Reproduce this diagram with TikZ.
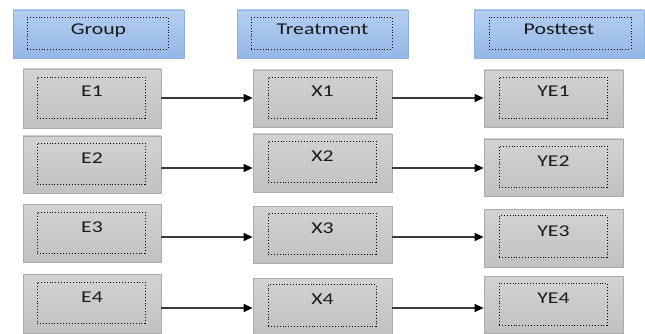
\documentclass[tikz,border=0pt]{standalone}
\usepackage{fontspec}
\setmainfont{Carlito}
\usetikzlibrary{arrows.meta}
\definecolor{hdrtop}{HTML}{B4CEF1}
\definecolor{hdrbot}{HTML}{94B7E5}
\definecolor{hdrline}{HTML}{8DB3E2}
\definecolor{grytop}{HTML}{D3D3D3}
\definecolor{grybot}{HTML}{C1C1C1}
\definecolor{gryline}{HTML}{ABABAB}
\definecolor{arrline}{HTML}{3A3A3A}
\newcommand{\widetxt}[1]{\scalebox{1.32}[1]{#1}}
\tikzset{
  hdrbox/.style={draw=hdrline, line width=0.8pt, top color=hdrtop, bottom color=hdrbot, inner sep=0pt, minimum width=171pt, minimum height=48pt},
  grybox/.style={draw=gryline, line width=0.8pt, top color=grytop, bottom color=grybot, inner sep=0pt},
  innerbox/.style={draw=black, dotted, line width=0.9pt, inner sep=0pt},
  lbl/.style={anchor=base, font=\fontsize{16.5pt}{18pt}\selectfont, text=black!90, inner sep=0pt},
  conn/.style={draw=arrline, line width=1.3pt, -{Triangle[length=9pt,width=8pt,color=black]}}
}
\begin{document}
\begin{tikzpicture}[x=1pt,y=-1pt]
\useasboundingbox[fill=white] (0,0) rectangle (645,334);
% headers
\node[hdrbox] (group) at (98.5,34) {};
\node[innerbox, minimum width=141pt, minimum height=32pt] (groupin) at (97.5,33) {};
\node[lbl] (grouplbl) at (98.5,35) {\widetxt{Group}};
\node[hdrbox] (treat) at (322.5,34) {};
\node[innerbox, minimum width=141pt, minimum height=32pt] (treatin) at (321.5,33) {};
\node[lbl] (treatlbl) at (322.5,35) {\widetxt{Treatment}};
\node[hdrbox, minimum width=170pt] (post) at (559,34) {};
\node[innerbox, minimum width=142pt, minimum height=32pt] (postin) at (560,33) {};
\node[lbl] (postlbl) at (559,35) {\widetxt{Posttest}};
% E column
\node[grybox, minimum width=138pt, minimum height=59pt] (e1) at (92,98.5) {};
\node[innerbox, minimum width=108pt, minimum height=41pt] (e1in) at (91,97.5) {};
\node[lbl] (e1lbl) at (92,97) {\widetxt{E1}};
\node[grybox, minimum width=138pt, minimum height=57pt] (e2) at (92,164.5) {};
\node[innerbox, minimum width=108pt, minimum height=41pt] (e2in) at (91,163.5) {};
\node[lbl] (e2lbl) at (92,163) {\widetxt{E2}};
\node[grybox, minimum width=138pt, minimum height=58pt] (e3) at (92,233) {};
\node[innerbox, minimum width=108pt, minimum height=41pt] (e3in) at (91,232.5) {};
\node[lbl] (e3lbl) at (92,232) {\widetxt{E3}};
\node[grybox, minimum width=138pt, minimum height=59pt] (e4) at (92,303.5) {};
\node[innerbox, minimum width=108pt, minimum height=41pt] (e4in) at (91,302.5) {};
\node[lbl] (e4lbl) at (92,302) {\widetxt{E4}};
% X column
\node[grybox, minimum width=139pt, minimum height=57pt] (x1) at (322.5,98.5) {};
\node[innerbox, minimum width=108pt, minimum height=41pt] (x1in) at (322,97.5) {};
\node[lbl] (x1lbl) at (322.5,97) {\widetxt{X1}};
\node[grybox, minimum width=139pt, minimum height=58pt] (x2) at (322.5,163) {};
\node[innerbox, minimum width=108pt, minimum height=41pt] (x2in) at (322,161.5) {};
\node[lbl] (x2lbl) at (322.5,161) {\widetxt{X2}};
\node[grybox, minimum width=139pt, minimum height=57pt] (x3) at (322.5,234.5) {};
\node[innerbox, minimum width=108pt, minimum height=41pt] (x3in) at (322,233.5) {};
\node[lbl] (x3lbl) at (322.5,233) {\widetxt{X3}};
\node[grybox, minimum width=139pt, minimum height=56pt] (x4) at (322.5,306) {};
\node[innerbox, minimum width=108pt, minimum height=42pt] (x4in) at (322,305.5) {};
\node[lbl] (x4lbl) at (322.5,304) {\widetxt{X4}};
% YE column
\node[grybox, minimum width=139pt, minimum height=57pt] (y1) at (553.5,98.5) {};
\node[innerbox, minimum width=108pt, minimum height=41pt] (y1in) at (553,97.5) {};
\node[lbl] (y1lbl) at (553.5,97) {\widetxt{YE1}};
\node[grybox, minimum width=139pt, minimum height=57pt] (y2) at (553.5,167.5) {};
\node[innerbox, minimum width=108pt, minimum height=41pt] (y2in) at (553,166.5) {};
\node[lbl] (y2lbl) at (553.5,166) {\widetxt{YE2}};
\node[grybox, minimum width=139pt, minimum height=58pt] (y3) at (553.5,238) {};
\node[innerbox, minimum width=108pt, minimum height=42pt] (y3in) at (553,236.5) {};
\node[lbl] (y3lbl) at (553.5,236) {\widetxt{YE3}};
\node[grybox, minimum width=139pt, minimum height=57pt] (y4) at (553.5,304.5) {};
\node[innerbox, minimum width=108pt, minimum height=42pt] (y4in) at (553,304) {};
\node[lbl] (y4lbl) at (553.5,303) {\widetxt{YE4}};
% row levels of the connectors
\coordinate (r1) at (0,98);
\coordinate (r2) at (0,168);
\coordinate (r3) at (0,237);
\coordinate (r4) at (0,308);
% connectors
\draw[conn] (e1.east |- r1) -- (x1.west |- r1);
\draw[conn] (x1.east |- r1) -- (y1.west |- r1);
\draw[conn] (e2.east |- r2) -- (x2.west |- r2);
\draw[conn] (x2.east |- r2) -- (y2.west |- r2);
\draw[conn] (e3.east |- r3) -- (x3.west |- r3);
\draw[conn] (x3.east |- r3) -- (y3.west |- r3);
\draw[conn] (e4.east |- r4) -- (x4.west |- r4);
\draw[conn] (x4.east |- r4) -- (y4.west |- r4);
\end{tikzpicture}
\end{document}
